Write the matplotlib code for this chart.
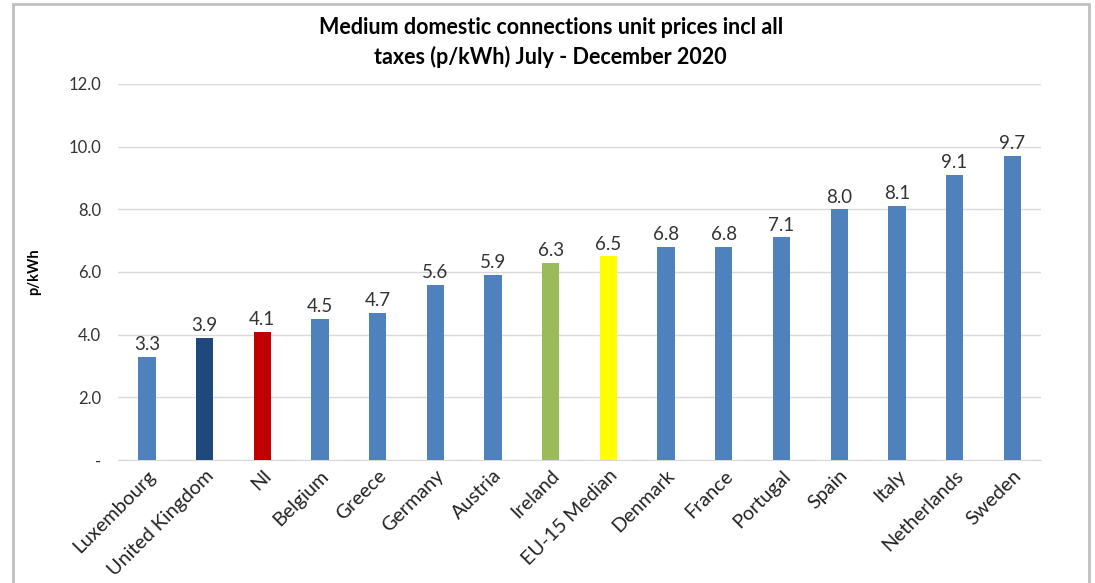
import matplotlib.pyplot as plt
from matplotlib.patches import Rectangle

countries = ["Luxembourg", "United Kingdom", "NI", "Belgium", "Greece", "Germany",
             "Austria", "Ireland", "EU-15 Median", "Denmark", "France", "Portugal",
             "Spain", "Italy", "Netherlands", "Sweden"]
prices = [3.3, 3.9, 4.1, 4.5, 4.7, 5.6, 5.9, 6.3, 6.5, 6.8, 6.8, 7.1, 8.0, 8.1, 9.1, 9.7]

blue = "#4F81BD"
highlight = {"United Kingdom": "#1F497D", "NI": "#C00000",
             "Ireland": "#9BBB59", "EU-15 Median": "#FFFF00"}
colors = [highlight.get(c, blue) for c in countries]

plt.rcParams['font.family'] = ['Lato', 'DejaVu Sans']

fig = plt.figure(figsize=(10.95, 5.83), dpi=100)
ax = fig.add_axes([0.1078, 0.211, 0.843, 0.645])

x = range(len(countries))
ax.bar(x, prices, width=0.3, color=colors, zorder=3)
for xi, v in zip(x, prices):
    ax.text(xi, v + 0.12, f"{v:.1f}", ha="center", va="bottom", fontsize=13.5, color="#333333")

ax.set_xlim(-0.5, len(countries) - 0.5)
ax.set_ylim(0, 12)
ax.set_yticks([0, 2, 4, 6, 8, 10, 12])
ax.set_yticklabels(["-", "2.0", "4.0", "6.0", "8.0", "10.0", "12.0"], fontsize=12, color="#333333")
ax.set_xticks(list(x))
ax.set_xticklabels(countries, rotation=45, ha="right", rotation_mode="anchor",
                   fontsize=14.2, color="#222222")
ax.tick_params(axis="y", length=0, pad=12)
ax.tick_params(axis="x", length=0, pad=5)
ax.grid(axis="y", color="#D9D9D9", linewidth=1, zorder=0)
for s in ["top", "right", "left"]:
    ax.spines[s].set_visible(False)
ax.spines["bottom"].set_color("#D9D9D9")
ax.set_ylabel("p/kWh", fontsize=10.5, fontweight="bold", labelpad=20)

fig.text(0.503, 0.952, "Medium domestic connections unit prices incl all",
         ha="center", va="center", fontsize=15.5, fontweight="bold")
fig.text(0.503, 0.903, "taxes (p/kWh) July - December 2020",
         ha="center", va="center", fontsize=15.5, fontweight="bold")

# chart frame
fig.patches.append(Rectangle((13 / 1095, -0.05), 1076 / 1095, 1.05 - 4 / 583,
                             transform=fig.transFigure, fill=False,
                             edgecolor="#BFBFBF", linewidth=2))

fig.savefig("out.png", dpi=100)
